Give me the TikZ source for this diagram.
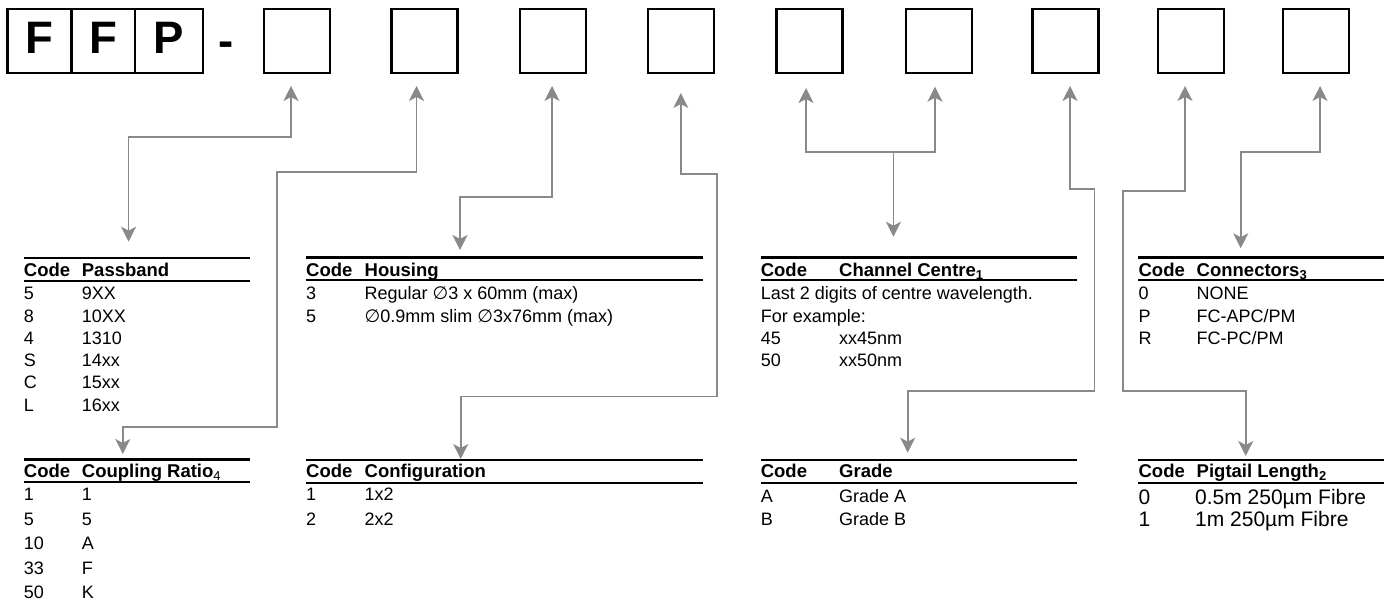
\documentclass[tikz,border=0pt]{standalone}
\usepackage{fontspec}
\setmainfont{Liberation Sans}
\newfontfamily\symfont{DejaVu Sans}
\usetikzlibrary{arrows.meta}
\definecolor{linkgray}{RGB}{137,137,137}
\newcommand{\dia}{{\symfont ∅}}

\begin{document}
\begin{tikzpicture}[x=1pt,y=-1pt,
    >={Stealth[length=15pt,width=15pt,inset=4pt]},
    slot/.style={draw,line width=2.3pt,minimum width=66pt,minimum height=63.7pt,inner sep=0pt},
    letter/.style={font=\fontsize{45.5}{46}\selectfont\bfseries,inner sep=0pt,anchor=base},
    rulebar/.style={line width=2.2pt},
    head/.style={font=\fontsize{18.5}{20}\selectfont\bfseries,inner sep=0pt,anchor=base west},
    cell/.style={font=\fontsize{18}{20}\selectfont,inner sep=0pt,anchor=base west},
    bigcell/.style={cell,font=\fontsize{21}{23}\selectfont},
    link/.style={draw=linkgray,line width=1.7pt}]
	\useasboundingbox (0,0) rectangle (1391,601);

	\node[slot,minimum width=63.8pt] (f1) at (39.5,41.2) {};
	\node[slot,minimum width=63.4pt] (f2) at (103.1,41.2) {};
	\node[slot,minimum width=68.3pt] (f3) at (169,41.2) {};
	\node[letter] (l1) at (39.5,53.3) {F};
	\node[letter] (l2) at (103.1,53.3) {F};
	\node[letter] (l3) at (169,53.3) {P};
	\node[letter] (dash) at (226.5,57) {-};
	\foreach \x [count=\i] in {297.3,424.5,552.7,680.8,809.5,938.8,1065.5,1190.8,1316}
	    \node[slot] (b\i) at (\x,41.2) {};

	\foreach \xa/\xb/\ya in {23.7/250/258,306/702.7/257.5,760.6/1077/257.5,1138.4/1384/257.5,
	        23.7/250/459.5,306/702.7/460,760.6/1077/460,1138.4/1384/460} {
	    \draw[rulebar] (\xa,\ya) -- (\xb,\ya);
	    \draw[rulebar] (\xa,\ya+22.8) -- (\xb,\ya+22.8);
	}

	\node[head] (pbc) at (23.7,276.7) {Code};
	\node[head] (pbh) at (81.7,276.7) {Passband};
	\foreach \c/\v [count=\i from 0] in {5/9XX,8/10XX,4/1310,S/14xx,C/15xx,L/16xx} {
	    \node[cell] (pb\i) at (23.7,300+22.2*\i) {\c};
	    \node[cell] (pbv\i) at (81.7,300+22.2*\i) {\v};
	}

	\node[head] (hsc) at (306,276.7) {Code};
	\node[head] (hsh) at (364.5,276.7) {Housing};
	\node[cell] (hs0) at (306,300) {3};
	\node[cell] (hsv0) at (364.5,300) {Regular \dia3 x 60mm (max)};
	\node[cell] (hs1) at (306,322.2) {5};
	\node[cell] (hsv1) at (364.5,322.2) {\dia0.9mm slim \dia3x76mm (max)};

	\node[head] (chc) at (760.6,276.7) {Code};
	\node[head] (chh) at (839,276.7) {Channel Centre\textsubscript{1}};
	\node[cell] (chl) at (760.6,300) {Last 2 digits of centre wavelength.};
	\node[cell] (che) at (760.6,322.2) {For example:};
	\foreach \c [count=\i from 0] in {45,50} {
	    \node[cell] (ch\i) at (760.6,344.4+22.2*\i) {\c};
	    \node[cell] (chv\i) at (839,344.4+22.2*\i) {xx\c nm};
	}

	\node[head] (cnc) at (1138.4,276.7) {Code};
	\node[head] (cnh) at (1196.5,276.7) {Connectors\textsubscript{3}};
	\foreach \c/\v [count=\i from 0] in {0/NONE,P/{FC-APC/PM},R/{FC-PC/PM}} {
	    \node[cell] (cn\i) at (1138.4,300+22.2*\i) {\c};
	    \node[cell] (cnv\i) at (1196.5,300+22.2*\i) {\v};
	}

	\node[head] (crc) at (23.7,477.5) {Code};
	\node[head] (crh) at (81.7,477.5) {Coupling Ratio\textsubscript{\normalfont 4}};
	\foreach \c/\v [count=\i from 0] in {1/1,5/5,10/A,33/F,50/K} {
	    \node[cell] (cr\i) at (23.7,500.7+24.5*\i) {\c};
	    \node[cell] (crv\i) at (81.7,500.7+24.5*\i) {\v};
	}

	\node[head] (cfc) at (306,477.5) {Code};
	\node[head] (cfh) at (364.5,477.5) {Configuration};
	\foreach \c [count=\i from 0] in {1,2} {
	    \node[cell] (cf\i) at (306,500.7+24.3*\i) {\c};
	    \node[cell] (cfv\i) at (364.5,500.7+24.3*\i) {\c x2};
	}

	\node[head] (grc) at (760.6,477.5) {Code};
	\node[head] (grh) at (839,477.5) {Grade};
	\foreach \c [count=\i from 0] in {A,B} {
	    \node[cell] (gr\i) at (760.6,502.5+22.5*\i) {\c};
	    \node[cell] (grv\i) at (839,502.5+22.5*\i) {Grade \c};
	}

	\node[head] (ptc) at (1138.4,477.5) {Code};
	\node[head] (pth) at (1196.5,477.5) {Pigtail Length\textsubscript{2}};
	\node[bigcell] (pt0) at (1138.4,504) {0};
	\node[bigcell] (ptv0) at (1195,504) {0.5m 250µm Fibre};
	\node[bigcell] (pt1) at (1138.4,526.7) {1};
	\node[bigcell] (ptv1) at (1195,526.7) {1m 250µm Fibre};

	\coordinate (t1) at (291,86);      \coordinate (e1) at (128.6,241.7);
	\coordinate (t2) at (416.5,86);    \coordinate (e2) at (122.8,454);
	\coordinate (t3) at (552,86);      \coordinate (e3) at (460,250);
	\coordinate (t4) at (680.8,93);    \coordinate (e4) at (460.7,459);
	\coordinate (t5) at (806,88);      \coordinate (t6) at (935,86.7);
	\coordinate (j5) at (893.4,151.7); \coordinate (e5) at (893.4,236.7);
	\coordinate (t7) at (1070,86);     \coordinate (e7) at (907.7,452.7);
	\coordinate (t8) at (1185,86);     \coordinate (e8) at (1245.7,456);
	\coordinate (t9) at (1320,86);     \coordinate (e9) at (1240.7,248.3);

	\draw[link,<->] (t1) -- (291,136.7) -| (e1);
	\draw[link,<->] (t2) |- (276.8,172.3) |- (122.8,426.7) -- (e2);
	\draw[link,<->] (t3) |- (460,197.3) -- (e3);
	\draw[link,<->] (t4) |- (716.8,174.3) |- (460.7,396.5) -- (e4);
	\draw[link,<->] (t5) |- (935,151.7) -- (t6);
	\draw[link,->] (j5) -- (e5);
	\draw[link,<->] (t7) |- (1094.6,189) |- (907.7,390.7) -- (e7);
	\draw[link,<->] (t8) |- (1122.7,190.7) |- (1245.7,390.7) -- (e8);
	\draw[link,<->] (t9) |- (1240.7,151.7) -- (e9);
\end{tikzpicture}
\end{document}
